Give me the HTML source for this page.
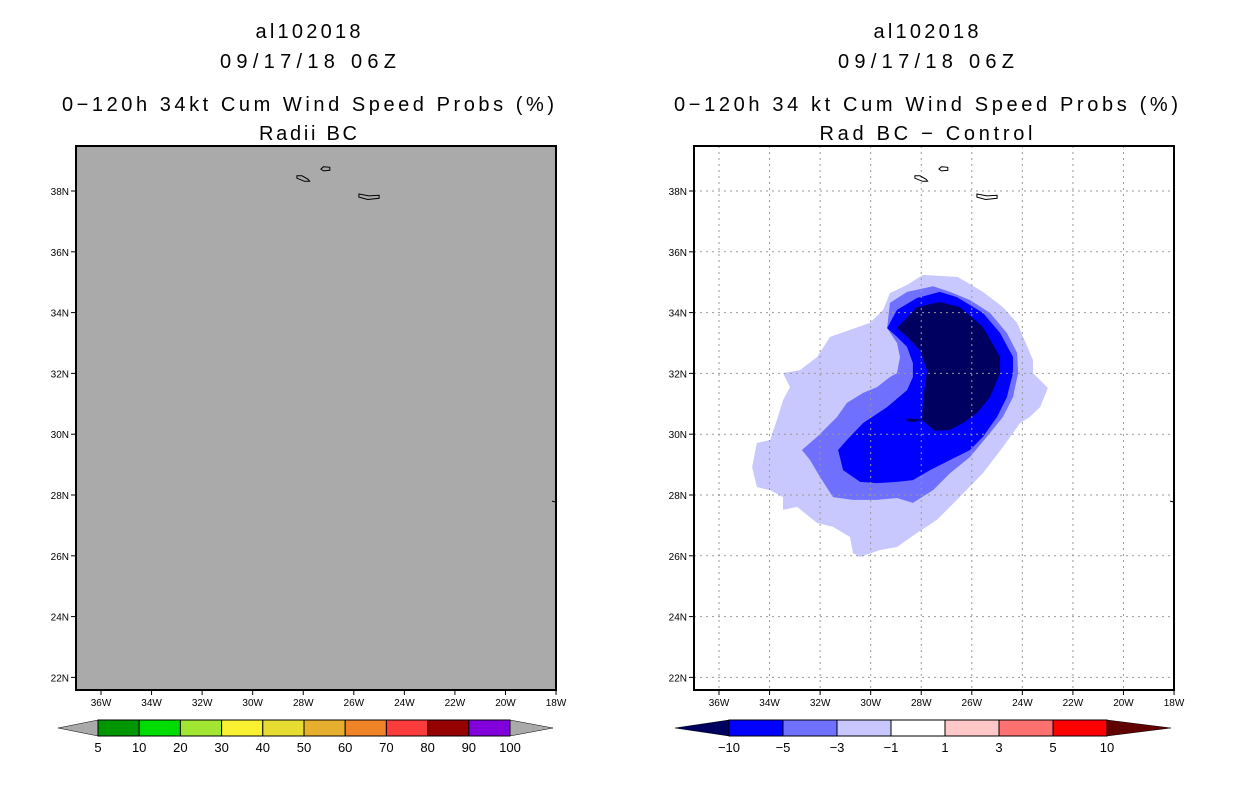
<!DOCTYPE html>
<html><head><meta charset="utf-8"><style>
html,body{margin:0;padding:0;background:#fff;width:1236px;height:800px;overflow:hidden}
svg{display:block}
text{font-family:"Liberation Sans","DejaVu Sans",sans-serif;fill:#000}
</style></head><body>
<svg id="svg" width="1236" height="800" viewBox="0 0 1236 800" xmlns="http://www.w3.org/2000/svg"></svg>
<script>
// ---- data ----
const lonTicks = [36,34,32,30,28,26,24,22,20,18];
const latTicks = [38,36,34,32,30,28,26,24,22];
const probLevels = [5,10,20,30,40,50,60,70,80,90,100];
const probColors = ['#009600','#00dc00','#a0e632','#faf032','#e6dc32','#e6af2d','#f08228','#fa3c3c','#960000','#8200dc'];
const diffLevels = [-10,-5,-3,-1,1,3,5,10];
const diffColors = ['#0000ff','#7070ff','#c8c8ff','#ffffff','#ffc8c8','#ff7070','#ff0000'];
// contour polygons, [lonW, latN]
const contourLight = [[27.93,35.24],[26.55,35.17],[25.56,34.68],[24.77,34.18],[24.21,33.66],[23.58,32.44],[23.58,32.01],[22.99,31.52],[23.30,30.89],[23.70,30.57],[24.09,30.37],[24.77,29.58],[25.56,28.72],[26.59,27.84],[27.38,27.18],[28.17,26.75],[28.96,26.29],[29.63,26.19],[30.42,25.96],[30.70,26.09],[30.82,26.62],[31.49,26.95],[32.12,27.08],[32.91,27.61],[33.47,27.51],[33.47,27.93],[33.98,28.16],[34.50,28.26],[34.69,28.92],[34.50,29.71],[33.98,29.81],[33.71,30.47],[33.47,31.12],[33.19,31.55],[33.47,32.01],[32.80,32.11],[32.12,32.54],[31.61,33.20],[30.82,33.43],[30.03,33.66],[29.51,34.09],[29.24,34.64],[28.56,34.91]];
const contourMed = [[29.35,33.49],[29.24,34.32],[28.56,34.68],[27.53,34.87],[26.86,34.68],[26.07,34.41],[25.28,33.99],[24.61,33.33],[24.21,32.67],[24.17,32.01],[24.37,31.22],[24.77,30.57],[25.28,30.04],[26.07,29.25],[26.86,28.72],[27.53,28.16],[28.33,27.74],[28.96,27.90],[29.75,27.84],[30.70,27.84],[31.49,27.93],[32.0,28.59],[32.40,29.15],[32.72,29.48],[32.12,29.91],[31.33,30.57],[30.94,31.03],[30.30,31.36],[29.75,31.55],[29.24,31.88],[28.96,32.01],[28.84,32.54],[28.96,33.0]];
const contourBlue = [[29.35,33.49],[28.96,34.09],[28.17,34.48],[27.26,34.68],[26.59,34.51],[25.56,33.99],[24.88,33.33],[24.37,32.54],[24.37,32.01],[24.61,31.22],[25.0,30.57],[25.56,29.91],[26.07,29.48],[26.86,29.15],[27.65,28.82],[28.33,28.49],[28.96,28.43],[29.75,28.39],[30.42,28.43],[31.09,28.82],[31.29,29.48],[30.94,29.81],[30.30,30.37],[29.35,30.89],[28.56,31.45],[28.33,31.88],[28.33,32.34],[28.56,32.87],[28.96,33.20]];
const contourNavy = [[28.96,33.49],[28.17,34.18],[27.26,34.35],[26.47,34.18],[25.56,33.53],[24.88,32.54],[24.88,32.01],[25.28,31.22],[25.79,30.70],[26.35,30.37],[26.86,30.14],[27.46,30.11],[27.97,30.47],[27.93,31.12],[27.77,32.11],[28.05,32.77],[28.56,33.20]];
const navyBlob = [[28.6,30.52],[28.2,30.50],[27.95,30.47],[28.3,30.40],[28.55,30.42]];
const islands = [
  [[28.25,38.50],[28.05,38.50],[27.8,38.38],[27.75,38.32],[27.95,38.32],[28.25,38.42]],
  [[27.2,38.8],[26.95,38.78],[26.95,38.68],[27.2,38.66],[27.3,38.72]],
  [[25.8,37.9],[25.4,37.84],[25.0,37.86],[25.0,37.76],[25.45,37.72],[25.8,37.8]]
];

const NS='http://www.w3.org/2000/svg';
const svg=document.getElementById('svg');
function el(tag,attrs,parent){const e=document.createElementNS(NS,tag);for(const k in attrs)e.setAttribute(k,attrs[k]);(parent||svg).appendChild(e);return e;}
function txt(s,x,y,size,anchor,parent){const t=el('text',{x:x,y:y,'font-size':size,'text-anchor':anchor||'middle'},parent);t.textContent=s;return t;}

function makePanel(x0,gray,id,titles,lens){
  const g=el('g',{});
  
  
  const X=lon=>x0+25+(36-lon)*25.28;
  const Y=lat=>191+(38-lat)*30.4;
  const cx=x0+232;
  const ys=[38,68,111,140];
  titles.forEach((t,i)=>{const e=txt(t,cx,ys[i],20,'middle',g);
    e.setAttribute('textLength',lens[i]);
    e.setAttribute('lengthAdjust','spacing');
    
    });
  const bg=el('rect',{x:x0,y:146,width:480,height:544,fill:gray?'#aaaaaa':'#ffffff'},g);
  
  
  const pts=arr=>arr.map(p=>X(p[0]).toFixed(1)+','+Y(p[1]).toFixed(1)).join(' ');
  if(!gray){
    [[contourLight,'#c8c8ff','contour-minus1'],[contourMed,'#7070ff','contour-minus3'],[contourBlue,'#0000ff','contour-minus5'],[contourNavy,'#000060','contour-minus10'],[navyBlob,'#000060','contour-minus10-blob']].forEach(c=>{
      const p=el('polygon',{points:pts(c[0]),fill:c[1]},g);
      
      
    });
    lonTicks.forEach(l=>{if(l===18)return;const ln=el('line',{x1:X(l),x2:X(l),y1:146,y2:690,stroke:'#999','stroke-dasharray':'2,4'},g);
      
      });
    latTicks.forEach(l=>{const ln=el('line',{x1:x0,x2:x0+480,y1:Y(l),y2:Y(l),stroke:'#999','stroke-dasharray':'2,4'},g);
      
      });
  }
  islands.forEach(isl=>{const p=el('polygon',{points:pts(isl),fill:'none',stroke:'#000','stroke-width':1},g);
    
    });
  el('path',{d:`M${x0+476},${Y(27.8)} l4,1`,stroke:'#000',fill:'none'},g);
  const fr=el('rect',{x:x0,y:146,width:480,height:544,fill:'none',stroke:'#000','stroke-width':2},g);
  
  
  lonTicks.forEach(l=>{el('line',{x1:X(l),x2:X(l),y1:690,y2:695,stroke:'#000'},g);
    const t=txt(l+'W',X(l),706,10,'middle',g);
    
    });
  latTicks.forEach(l=>{el('line',{x1:x0-5,x2:x0,y1:Y(l),y2:Y(l),stroke:'#000'},g);
    const t=txt(l+'N',x0-7,Y(l)+4,10,'end',g);
    
    });
}
makePanel(76,true,'radii-bc',['al102018','09/17/18 06Z','0\u2212120h 34kt Cum Wind Speed Probs (%)','Radii BC'],[105,176,492,98]);
makePanel(694,false,'difference',['al102018','09/17/18 06Z','0\u2212120h 34 kt Cum Wind Speed Probs (%)','Rad BC \u2212 Control'],[105,176,504,213]);

function colorbar(levels,colors,x0,w,tipL,tipR,cL,cR,id){
  const g=el('g',{});
  
  
  const y0=720,h=16,xe=x0+w*(levels.length-1);
  el('polygon',{points:`${tipL},${y0+h/2} ${x0},${y0} ${x0},${y0+h}`,fill:cL,stroke:'#000','stroke-width':0.5},g);
  el('polygon',{points:`${tipR},${y0+h/2} ${xe},${y0} ${xe},${y0+h}`,fill:cR,stroke:'#000','stroke-width':0.5},g);
  colors.forEach((c,i)=>{const r=el('rect',{x:x0+i*w,y:y0,width:w,height:h,fill:c,stroke:'#000','stroke-width':1},g);
    
    });
  levels.forEach((v,i)=>{const t=txt(String(v).replace('-','\u2212'),x0+i*w,752,13,'middle',g);
    
    });
}
colorbar(probLevels,probColors,98,41.2,58,553,'#aaaaaa','#aaaaaa','prob-colorbar');
colorbar(diffLevels,diffColors,729,54,675,1171,'#000060','#600000','diff-colorbar');
</script>
</body></html>
